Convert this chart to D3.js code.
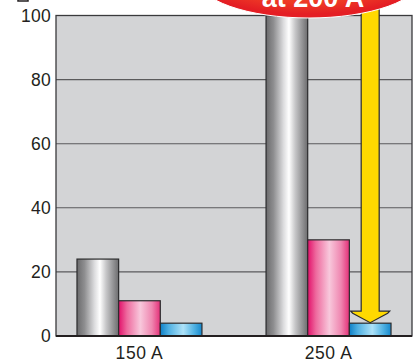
<!DOCTYPE html>
<html>
<head>
<meta charset="utf-8">
<script src="https://cdn.jsdelivr.net/npm/d3@7"></script>
<style>
  html, body { margin: 0; padding: 0; background: #fff; }
  svg { display: block; }
</style>
</head>
<body>
<svg id="chart" width="418" height="360"></svg>
<script>
// Chart data
const categories = ["150 A", "250 A"];
const seriesNames = ["gray", "pink", "blue"];
const grayValues = [24, 100];
const pinkValues = [11, 30];
const blueValues = [4, 4];
const yTicks = [0, 20, 40, 60, 80, 100];
const calloutText = "at 200 A";
const calloutIndex = 1;      // category the arrow points at
const calloutSeries = 2;     // series the arrow points at

const W = 418, H = 360;
const margin = { left: 56, right: 6, top: 15.5, bottom: 24 };
const svg = d3.select("#chart");
const defs = svg.append("defs");

const x0 = d3.scaleBand()
  .domain(categories)
  .range([margin.left, W - margin.right])
  .paddingInner(0.339)
  .paddingOuter(0.111);
const x1 = d3.scaleBand()
  .domain(seriesNames)
  .range([0, x0.bandwidth()])
  .padding(0);
const y = d3.scaleLinear().domain([0, 100]).range([H - margin.bottom, margin.top]);

// Cylinder-like horizontal gradients for the bars
function gradient(id, stops) {
  const g = defs.append("linearGradient").attr("id", id)
    .attr("x1", "0%").attr("x2", "100%").attr("y1", "0%").attr("y2", "0%");
  stops.forEach(([o, c]) => g.append("stop").attr("offset", o).attr("stop-color", c));
}
gradient("g-gray", [["0%", "#6a6a6c"], ["18%", "#8e8e90"], ["42%", "#dcdcde"], ["55%", "#ffffff"], ["70%", "#c6c6c8"], ["100%", "#6c6c6e"]]);
gradient("g-pink", [["0%", "#e2106a"], ["20%", "#ee6a9e"], ["52%", "#f8c8dc"], ["80%", "#ef86b0"], ["100%", "#e42f78"]]);
gradient("g-blue", [["0%", "#0f80c6"], ["20%", "#4fb0e2"], ["55%", "#aee2f8"], ["80%", "#54b4e4"], ["100%", "#1588cc"]]);

const rg = defs.append("radialGradient").attr("id", "g-callout")
  .attr("cx", "50%").attr("cy", "40%").attr("r", "55%");
rg.append("stop").attr("offset", "0%").attr("stop-color", "#f4562c");
rg.append("stop").attr("offset", "75%").attr("stop-color", "#ee3a26");
rg.append("stop").attr("offset", "100%").attr("stop-color", "#e41e24");

// Plot background
svg.append("rect")
  .attr("x", margin.left).attr("y", margin.top)
  .attr("width", W - margin.right - margin.left)
  .attr("height", y(0) - margin.top)
  .attr("fill", "#d3d4d6");

// Horizontal gridlines
svg.append("g").selectAll("line")
  .data(yTicks.filter(d => d > 0 && d < 100))
  .join("line")
  .attr("x1", margin.left).attr("x2", W - margin.right)
  .attr("y1", d => y(d)).attr("y2", d => y(d))
  .attr("stroke", "#5a5a5c").attr("stroke-width", 1.1);

// Y axis labels
const yAxis = d3.axisLeft(y).tickValues(yTicks).tickSize(0).tickPadding(5);
svg.append("g")
  .attr("transform", `translate(${margin.left},0)`)
  .call(yAxis)
  .call(g => g.select(".domain").remove())
  .call(g => g.selectAll("text")
    .attr("font-family", "Liberation Sans, Arial, sans-serif")
    .attr("font-size", 17.5).attr("letter-spacing", 0.3).attr("fill", "#231f20"));

// Bars
const series = [grayValues, pinkValues, blueValues];
const fills = ["url(#g-gray)", "url(#g-pink)", "url(#g-blue)"];
const barData = [];
categories.forEach((c, i) => series.forEach((vals, s) =>
  barData.push({ cat: c, s: seriesNames[s], v: vals[i], fill: fills[s] })));

svg.append("g").selectAll("rect")
  .data(barData)
  .join("rect")
  .attr("x", d => x0(d.cat) + x1(d.s))
  .attr("y", d => y(d.v))
  .attr("width", x1.bandwidth())
  .attr("height", d => y(0) - y(d.v))
  .attr("fill", d => d.fill)
  .attr("stroke", "#2b2b2d").attr("stroke-width", 1.2);

// Plot frame
svg.append("rect")
  .attr("x", margin.left).attr("y", margin.top)
  .attr("width", W - margin.right - margin.left)
  .attr("height", y(0) - margin.top)
  .attr("fill", "none").attr("stroke", "#3a3a3c").attr("stroke-width", 1.3);
svg.append("line")
  .attr("x1", margin.left).attr("x2", W - margin.right)
  .attr("y1", y(0)).attr("y2", y(0))
  .attr("stroke", "#231f20").attr("stroke-width", 1.8);

// X axis labels
const xAxis = d3.axisBottom(x0).tickSize(0).tickPadding(10.5);
svg.append("g")
  .attr("transform", `translate(0,${y(0)})`)
  .call(xAxis)
  .call(g => g.select(".domain").remove())
  .call(g => g.selectAll("text")
    .attr("font-family", "Liberation Sans, Arial, sans-serif")
    .attr("font-size", 17.5).attr("letter-spacing", 0.6).attr("fill", "#231f20"));

// Downward arrow pointing at the highlighted bar
const ax = x0(categories[calloutIndex]) + x1(seriesNames[calloutSeries]) + x1.bandwidth() / 2;
const tipY = y(series[calloutSeries][calloutIndex]) - 0.5;
const shaftHalf = 9, headHalf = 19.5, headLen = 11.5;
const headTop = tipY - headLen;
const arrowPath = d3.path();
arrowPath.moveTo(ax - shaftHalf, 0);
arrowPath.lineTo(ax - shaftHalf, headTop);
arrowPath.lineTo(ax - headHalf, headTop);
arrowPath.lineTo(ax - headHalf + 2, headTop + 2);
arrowPath.lineTo(ax, tipY);
arrowPath.lineTo(ax + headHalf - 2, headTop + 2);
arrowPath.lineTo(ax + headHalf, headTop);
arrowPath.lineTo(ax + shaftHalf, headTop);
arrowPath.lineTo(ax + shaftHalf, 0);
svg.append("path")
  .attr("d", arrowPath.toString())
  .attr("fill", "#ffd900")
  .attr("stroke", "#2b2b2d").attr("stroke-width", 1.2)
  .attr("stroke-linejoin", "miter");

// Callout bubble at the top
svg.append("ellipse")
  .attr("cx", 309).attr("cy", -22).attr("rx", 112).attr("ry", 40)
  .attr("fill", "url(#g-callout)")
  .attr("stroke", "#ffffff").attr("stroke-width", 1);
svg.append("text")
  .attr("x", 313).attr("y", 7)
  .attr("text-anchor", "middle")
  .attr("font-family", "Liberation Sans, Arial, sans-serif")
  .attr("font-weight", "bold").attr("font-size", 27)
  .attr("fill", "#ffffff")
  .text(calloutText);

// Legend swatch edge peeking in at the top left
svg.append("rect")
  .attr("x", 18).attr("y", -10).attr("width", 10).attr("height", 11)
  .attr("fill", "#ffffff").attr("stroke", "#231f20").attr("stroke-width", 1.5);
</script>
</body>
</html>
